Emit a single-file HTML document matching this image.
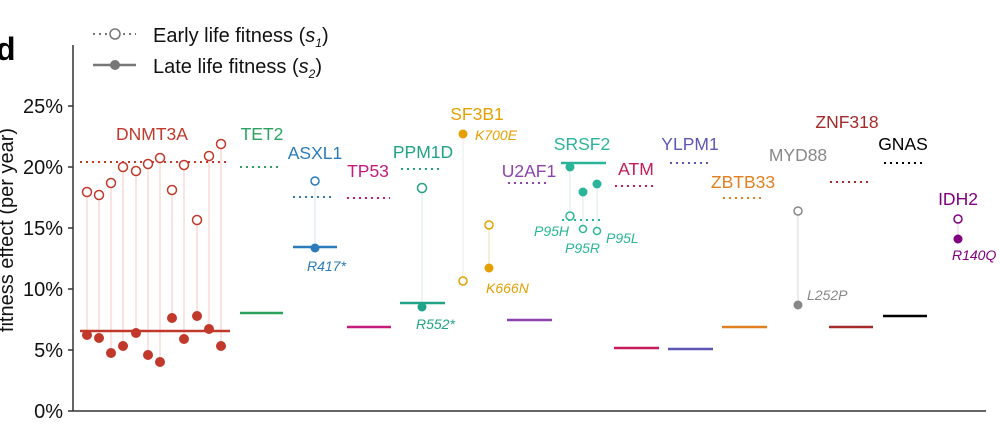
<!DOCTYPE html>
<html><head><meta charset="utf-8"><style>
html,body{margin:0;padding:0;background:#fff;width:1000px;height:442px;overflow:hidden}
svg{display:block;font-family:"Liberation Sans",sans-serif}
</style></head><body>
<svg width="1000" height="442" viewBox="0 0 1000 442" xmlns="http://www.w3.org/2000/svg">
<text x="-4" y="60" font-size="32" font-weight="bold" fill="#000">d</text>
<line x1="93" y1="34" x2="136" y2="34" stroke="#777" stroke-width="2" stroke-dasharray="2,4"/>
<circle cx="115" cy="34" r="5" fill="#fff" stroke="#777" stroke-width="1.5"/>
<text x="153" y="42" font-size="20" fill="#111">Early life fitness (<tspan font-style="italic">s</tspan><tspan font-size="12" dy="5" font-style="italic">1</tspan><tspan dy="-5">)</tspan></text>
<line x1="93" y1="65" x2="136" y2="65" stroke="#777" stroke-width="2.5"/>
<circle cx="115" cy="65" r="5" fill="#777"/>
<text x="153" y="73" font-size="20" fill="#111">Late life fitness (<tspan font-style="italic">s</tspan><tspan font-size="12" dy="5" font-style="italic">2</tspan><tspan dy="-5">)</tspan></text>
<line x1="73" y1="45" x2="73" y2="411" stroke="#333" stroke-width="1.5"/>
<line x1="73" y1="411" x2="986" y2="411" stroke="#333" stroke-width="1.5"/>
<g stroke="#333" stroke-width="1.5">
<line x1="68" y1="106" x2="73" y2="106"/><line x1="68" y1="167" x2="73" y2="167"/><line x1="68" y1="228" x2="73" y2="228"/><line x1="68" y1="289" x2="73" y2="289"/><line x1="68" y1="350" x2="73" y2="350"/><line x1="68" y1="411" x2="73" y2="411"/>
</g>
<g font-size="20" fill="#111" text-anchor="end">
<text x="63" y="113">25%</text><text x="63" y="174">20%</text><text x="63" y="235">15%</text><text x="63" y="296">10%</text><text x="63" y="357">5%</text><text x="63" y="418">0%</text>
</g>
<text transform="translate(13,230) rotate(-90)" font-size="20" fill="#111" text-anchor="middle">fitness effect (per year)</text>

<g stroke="#f3c9c3" stroke-width="1">
<line x1="87" y1="192" x2="87" y2="335"/><line x1="99" y1="195" x2="99" y2="338"/><line x1="111" y1="183" x2="111" y2="353"/><line x1="123" y1="167" x2="123" y2="346"/><line x1="136" y1="171" x2="136" y2="333"/><line x1="148" y1="164" x2="148" y2="355"/><line x1="160" y1="158" x2="160" y2="362"/><line x1="172" y1="190" x2="172" y2="318"/><line x1="184" y1="165" x2="184" y2="339"/><line x1="197" y1="220" x2="197" y2="316"/><line x1="209" y1="156" x2="209" y2="329"/><line x1="221" y1="144" x2="221" y2="346"/>
</g>
<line x1="80" y1="162" x2="229" y2="162" stroke="#c0392b" stroke-width="2" stroke-dasharray="2,4"/>
<line x1="80" y1="331" x2="230" y2="331" stroke="#c0392b" stroke-width="2.5"/>
<g fill="#fff" stroke="#c0392b" stroke-width="1.5">
<circle cx="87" cy="192" r="4.5"/><circle cx="99" cy="195" r="4.5"/><circle cx="111" cy="183" r="4.5"/><circle cx="123" cy="167" r="4.5"/><circle cx="136" cy="171" r="4.5"/><circle cx="148" cy="164" r="4.5"/><circle cx="160" cy="158" r="4.5"/><circle cx="172" cy="190" r="4.5"/><circle cx="184" cy="165" r="4.5"/><circle cx="197" cy="220" r="4.5"/><circle cx="209" cy="156" r="4.5"/><circle cx="221" cy="144" r="4.5"/>
</g>
<g fill="#c0392b">
<circle cx="87" cy="335" r="5"/><circle cx="99" cy="338" r="5"/><circle cx="111" cy="353" r="5"/><circle cx="123" cy="346" r="5"/><circle cx="136" cy="333" r="5"/><circle cx="148" cy="355" r="5"/><circle cx="160" cy="362" r="5"/><circle cx="172" cy="318" r="5"/><circle cx="184" cy="339" r="5"/><circle cx="197" cy="316" r="5"/><circle cx="209" cy="329" r="5"/><circle cx="221" cy="346" r="5"/>
</g>
<g font-size="17.5" text-anchor="middle">
<text x="152" y="140" fill="#c0392b">DNMT3A</text>
<text x="262" y="140" fill="#2ca25f">TET2</text>
<text x="315" y="159" fill="#2b7bba">ASXL1</text>
<text x="368" y="177" fill="#c51b7d">TP53</text>
<text x="423" y="158" fill="#20a387">PPM1D</text>
<text x="477" y="120" fill="#e69f00">SF3B1</text>
<text x="529" y="177" fill="#8e44ad">U2AF1</text>
<text x="582" y="150" fill="#2ab59a">SRSF2</text>
<text x="636" y="175" fill="#c51b5a">ATM</text>
<text x="690" y="150" fill="#5e56b4">YLPM1</text>
<text x="743" y="188" fill="#e08020">ZBTB33</text>
<text x="798" y="161" fill="#888">MYD88</text>
<text x="847" y="128" fill="#a52a2a">ZNF318</text>
<text x="903" y="150" fill="#000">GNAS</text>
<text x="958" y="205" fill="#800080">IDH2</text>
</g>
<line x1="240" y1="167" x2="282" y2="167" stroke="#2ca25f" stroke-width="2" stroke-dasharray="2,4"/>
<line x1="240" y1="313" x2="283" y2="313" stroke="#2ca25f" stroke-width="2.5"/>
<line x1="315" y1="181" x2="315" y2="248" stroke="#d5e5f2" stroke-width="1"/>
<line x1="293" y1="197" x2="335" y2="197" stroke="#2b7bba" stroke-width="2" stroke-dasharray="2,4"/>
<line x1="293" y1="247" x2="337" y2="247" stroke="#2b7bba" stroke-width="2.5"/>
<circle cx="315" cy="181" r="4" fill="#fff" stroke="#2b7bba" stroke-width="1.5"/>
<circle cx="315" cy="248" r="4.5" fill="#2b7bba"/>
<line x1="347" y1="198" x2="390" y2="198" stroke="#c51b7d" stroke-width="2" stroke-dasharray="2,4"/>
<line x1="347" y1="327" x2="391" y2="327" stroke="#c51b7d" stroke-width="2.5"/>
<line x1="422" y1="188" x2="422" y2="307" stroke="#d5ece6" stroke-width="1"/>
<line x1="401" y1="169" x2="443" y2="169" stroke="#20a387" stroke-width="2" stroke-dasharray="2,4"/>
<line x1="400" y1="303" x2="445" y2="303" stroke="#20a387" stroke-width="2.5"/>
<circle cx="422" cy="188" r="4.5" fill="#fff" stroke="#20a387" stroke-width="1.5"/>
<circle cx="422" cy="307" r="4.5" fill="#20a387"/>
<line x1="463" y1="134" x2="463" y2="281" stroke="#e8e8e8" stroke-width="1"/>
<line x1="489" y1="225" x2="489" y2="268" stroke="#f2dcb0" stroke-width="1"/>
<circle cx="463" cy="134" r="4.5" fill="#e69f00"/>
<circle cx="463" cy="281" r="4" fill="#fff" stroke="#e69f00" stroke-width="1.5"/>
<circle cx="489" cy="225" r="4" fill="#fff" stroke="#e69f00" stroke-width="1.5"/>
<circle cx="489" cy="268" r="4.5" fill="#e69f00"/>
<line x1="508" y1="183" x2="550" y2="183" stroke="#8e44ad" stroke-width="2" stroke-dasharray="2,4"/>
<line x1="507" y1="320" x2="552" y2="320" stroke="#8e44ad" stroke-width="2.5"/>
<g stroke="#d5ece6" stroke-width="1"><line x1="570" y1="167" x2="570" y2="216"/><line x1="583" y1="192" x2="583" y2="229"/><line x1="597" y1="184" x2="597" y2="231"/></g>
<line x1="561" y1="163" x2="606" y2="163" stroke="#2ab59a" stroke-width="2.5"/>
<line x1="562" y1="220" x2="604" y2="220" stroke="#2ab59a" stroke-width="2" stroke-dasharray="2,4"/>
<g fill="#2ab59a"><circle cx="570" cy="167" r="4.5"/><circle cx="583" cy="192" r="4.5"/><circle cx="597" cy="184" r="4.5"/></g>
<g fill="#fff" stroke="#2ab59a" stroke-width="1.5"><circle cx="570" cy="216" r="4"/><circle cx="583" cy="229" r="3.5"/><circle cx="597" cy="231" r="3.5"/></g>
<line x1="615" y1="186" x2="657" y2="186" stroke="#c51b5a" stroke-width="2" stroke-dasharray="2,4"/>
<line x1="614" y1="348" x2="659" y2="348" stroke="#c51b5a" stroke-width="2.5"/>
<line x1="670" y1="163" x2="711" y2="163" stroke="#5e56b4" stroke-width="2" stroke-dasharray="2,4"/>
<line x1="668" y1="349" x2="713" y2="349" stroke="#5e56b4" stroke-width="2.5"/>
<line x1="723" y1="198" x2="765" y2="198" stroke="#e08020" stroke-width="2" stroke-dasharray="2,4"/>
<line x1="722" y1="327" x2="767" y2="327" stroke="#e08020" stroke-width="2.5"/>
<line x1="798" y1="211" x2="798" y2="305" stroke="#e4e4e4" stroke-width="1.5"/>
<circle cx="798" cy="211" r="4" fill="#fff" stroke="#888" stroke-width="1.5"/>
<circle cx="798" cy="305" r="4.5" fill="#888"/>
<line x1="830" y1="182" x2="872" y2="182" stroke="#a52a2a" stroke-width="2" stroke-dasharray="2,4"/>
<line x1="829" y1="327" x2="873" y2="327" stroke="#a52a2a" stroke-width="2.5"/>
<line x1="884" y1="163" x2="925" y2="163" stroke="#000" stroke-width="2" stroke-dasharray="2,4"/>
<line x1="883" y1="316" x2="927" y2="316" stroke="#000" stroke-width="2.5"/>
<line x1="958" y1="219" x2="958" y2="239" stroke="#e6cce6" stroke-width="1"/>
<circle cx="958" cy="219" r="4" fill="#fff" stroke="#800080" stroke-width="1.5"/>
<circle cx="958" cy="239" r="4.5" fill="#800080"/>
<g font-size="14" font-style="italic">
<text x="307" y="271" fill="#2b7bba">R417*</text>
<text x="416" y="329" fill="#20a387">R552*</text>
<text x="475" y="140" fill="#e69f00">K700E</text>
<text x="486" y="293" fill="#e69f00">K666N</text>
<text x="534" y="236" fill="#2ab59a">P95H</text>
<text x="565" y="253" fill="#2ab59a">P95R</text>
<text x="606" y="243" fill="#2ab59a">P95L</text>
<text x="807" y="300" fill="#888">L252P</text>
<text x="952" y="260" fill="#800080">R140Q</text>
</g>
</svg>
</body></html>
